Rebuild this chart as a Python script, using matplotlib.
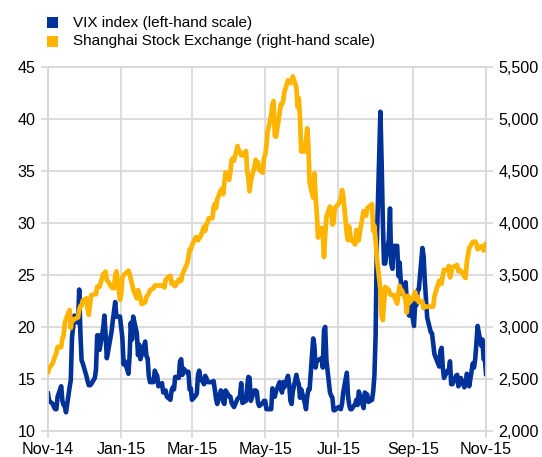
import matplotlib
matplotlib.use("Agg")
import matplotlib.pyplot as plt
import matplotlib.dates as mdates
from matplotlib.patches import Rectangle
import pandas as pd

plt.rcParams['font.family'] = ['Liberation Sans', 'DejaVu Sans']

# Business days from 20 Nov 2014 to 20 Nov 2015 (holidays carry previous value)
dates = pd.bdate_range('2014-11-20', '2015-11-20')

vix = [
    # Nov-14
    13.6, 12.9, 12.6, 12.3, 12.1, 12.1, 13.3,
    # Dec-14
    14.3, 12.9, 12.5, 12.4, 11.8, 14.2, 14.9, 19.0, 20.1, 21.1, 20.4, 23.6, 19.4, 16.8, 16.5,
    15.3, 14.8, 14.4, 14.4, 14.5, 15.1, 15.9, 19.2,
    # Jan-15
    19.2, 17.8, 19.9, 21.1, 19.3, 17.0, 17.6, 19.6, 20.6, 21.5, 22.4, 21.0, 21.0, 19.9, 18.9,
    16.4, 16.7, 15.5, 17.2, 20.4, 18.8, 21.0,
    # Feb-15
    19.4, 17.3, 18.3, 16.9, 17.3, 18.6, 17.2, 17.0, 15.3, 14.7, 14.7, 15.8, 15.5, 15.3, 14.3,
    14.6, 13.7, 13.8, 13.9, 13.3,
    # Mar-15
    13.0, 13.9, 14.2, 14.0, 15.2, 15.1, 16.7, 16.9, 15.4, 16.0, 15.6, 15.7, 14.0, 14.1, 13.0,
    13.4, 13.6, 15.4, 15.8, 15.1, 14.5, 15.3,
    # Apr-15
    15.1, 14.7, 14.7, 14.7, 14.8, 14.0, 13.1, 12.6, 13.9, 13.7, 12.8, 12.6, 13.9, 13.3, 13.3,
    12.7, 12.5, 12.3, 13.1, 13.2, 13.4, 14.6,
    # May-15
    12.7, 12.9, 14.3, 15.2, 15.1, 12.9, 13.9, 13.9, 13.8, 12.7, 12.4, 12.7, 12.9, 12.9, 12.1,
    12.1, 12.1, 14.1, 13.3, 13.3, 13.8,
    # Jun-15
    14.7, 14.2, 13.7, 14.7, 14.2, 15.3, 14.5, 12.9, 12.6, 13.8, 15.4, 14.8, 14.5, 13.2, 14.0,
    12.7, 12.1, 13.3, 14.0, 14.0, 18.9, 18.2,
    # Jul-15
    16.1, 16.8, 16.8, 17.0, 16.1, 19.7, 20.0, 16.8, 13.7, 13.4, 13.2, 12.0, 12.0, 12.3, 12.2,
    12.1, 12.6, 13.7, 15.6, 13.4, 12.5, 12.1, 12.1,
    # Aug-15
    12.6, 13.0, 12.5, 13.8, 13.4, 12.2, 13.7, 13.6, 13.5, 12.8, 13.0, 13.8, 15.3, 19.1, 28.0,
    40.7, 36.0, 30.3, 26.1, 26.1, 28.4,
    # Sep-15
    31.4, 26.1, 25.6, 27.8, 27.8, 24.9, 26.2, 24.4, 23.2, 24.3, 22.5, 21.4, 21.1, 22.3, 20.1,
    22.4, 22.1, 23.5, 23.6, 27.6, 26.8, 24.5,
    # Oct-15
    22.6, 20.9, 19.5, 19.4, 18.4, 17.4, 17.1, 16.2, 17.7, 18.0, 16.1, 15.1, 15.8, 15.8, 16.7,
    14.5, 14.5, 15.3, 15.4, 14.3, 14.6, 15.1,
    # Nov-15
    14.2, 14.5, 15.5, 15.1, 14.3, 16.5, 16.1, 16.9, 18.4, 20.1, 18.2, 18.8, 16.9, 17.0, 15.5,
]

shanghai = [
    # Nov-14
    2567, 2604, 2652, 2688, 2726, 2754, 2809,
    # Dec-14
    2806, 2893, 2910, 3035, 3076, 3162, 2990, 3078, 3062, 3076, 3092, 3163, 3201, 3205, 3254,
    3275, 3174, 3117, 3217, 3305, 3317, 3315, 3387,
    # Jan-15
    3387, 3387, 3508, 3510, 3533, 3449, 3439, 3381, 3374, 3373, 3493, 3535, 3262, 3322, 3479,
    3500, 3508, 3542, 3511, 3460, 3415, 3361,
    # Feb-15
    3275, 3355, 3323, 3283, 3221, 3240, 3289, 3305, 3322, 3354, 3373, 3399, 3399, 3399, 3399,
    3399, 3399, 3380, 3453, 3466,
    # Mar-15
    3493, 3416, 3434, 3401, 3393, 3457, 3440, 3445, 3506, 3532, 3611, 3668, 3746, 3745, 3787,
    3861, 3865, 3833, 3856, 3865, 3964, 3924,
    # Apr-15
    3989, 4005, 4046, 4046, 4147, 4183, 4143, 4225, 4315, 4329, 4276, 4391, 4488, 4415, 4495,
    4605, 4621, 4599, 4740, 4686, 4686, 4650,
    # May-15
    4650, 4691, 4500, 4428, 4305, 4403, 4537, 4608, 4581, 4584, 4510, 4484, 4626, 4655, 4742,
    4877, 5039, 5141, 5173, 4837, 4829,
    # Jun-15
    5055, 5141, 5141, 5180, 5259, 5372, 5353, 5346, 5362, 5409, 5300, 5117, 5200, 5010, 4688,
    4688, 4792, 4911, 4741, 4389, 4243, 4478,
    # Jul-15
    4245, 4097, 3860, 3953, 3903, 3672, 3884, 4060, 4157, 4108, 3984, 4003, 4144, 4181, 4206,
    4215, 4318, 4261, 3900, 3835, 3967, 3879, 3836,
    # Aug-15
    3793, 3933, 3869, 3833, 3920, 4113, 4113, 4070, 4140, 4151, 4181, 3924, 3972, 3836, 3673,
    3361, 3104, 3065, 3229, 3384, 3357,
    # Sep-15
    3315, 3309, 3309, 3309, 3225, 3320, 3395, 3348, 3350, 3261, 3139, 3300, 3231, 3244, 3305,
    3336, 3262, 3291, 3238, 3247, 3182, 3196,
    # Oct-15
    3196, 3196, 3196, 3196, 3196, 3292, 3333, 3443, 3449, 3416, 3495, 3550, 3545, 3587, 3477,
    3527, 3573, 3591, 3595, 3535, 3546, 3542,
    # Nov-15
    3482, 3472, 3623, 3688, 3759, 3818, 3812, 3822, 3803, 3748, 3775, 3774, 3736, 3788, 3801,
]

x_tick_dates = ['2014-11-20', '2015-01-20', '2015-03-20', '2015-05-20',
                '2015-07-20', '2015-09-20', '2015-11-20']
x_tick_labels = ['Nov-14', 'Jan-15', 'Mar-15', 'May-15', 'Jul-15', 'Sep-15', 'Nov-15']
left_ticks = [10, 15, 20, 25, 30, 35, 40, 45]
right_ticks = [2000, 2500, 3000, 3500, 4000, 4500, 5000, 5500]

series_labels = ['VIX index (left-hand scale)', 'Shanghai Stock Exchange (right-hand scale)']
BLUE = '#003299'
ORANGE = '#FFB400'
GRID = '#D9D9D9'

W, H = 542, 457
fig = plt.figure(figsize=(W / 100, H / 100), dpi=100)
ax = fig.add_axes([48 / W, 1 - 431 / H, (486 - 48) / W, (431 - 67) / H])
ax2 = ax.twinx()

ax.plot(dates, vix, color=BLUE, lw=3.3, solid_joinstyle='round', zorder=3)
ax2.plot(dates, shanghai, color=ORANGE, lw=3.4, solid_joinstyle='round', zorder=3)

ax.set_xlim(pd.Timestamp('2014-11-20'), pd.Timestamp('2015-11-20'))
ax.set_ylim(10, 45)
ax2.set_ylim(2000, 5500)

tick_pos = [pd.Timestamp(d) for d in x_tick_dates]
ax.set_xticks(tick_pos)
ax.set_xticklabels(x_tick_labels)
ax.set_yticks(left_ticks)
ax.set_yticklabels([str(v) for v in left_ticks])
ax2.set_yticks(right_ticks)
ax2.set_yticklabels([f'{v:,}' for v in right_ticks])

ax.grid(True, color=GRID, lw=1.3)
ax.set_axisbelow(True)
for a in (ax, ax2):
    for s in a.spines.values():
        s.set_color(GRID)
        s.set_linewidth(1.3)
    a.tick_params(colors=GRID, length=5, width=1.3, labelsize=11.6, labelcolor='black')
ax.tick_params(axis='x', pad=3)
ax.tick_params(axis='y', pad=4)
ax2.tick_params(axis='y', pad=4)

# Legend drawn manually
rows = [(series_labels[0], BLUE, 22.5), (series_labels[1], ORANGE, 41.5)]
for label, col, yc in rows:
    fig.patches.append(Rectangle((47 / W, 1 - (yc + 5.5) / H), 11 / W, 11 / H,
                                 transform=fig.transFigure, facecolor=col, edgecolor='none'))
    fig.text(73 / W, 1 - yc / H, label, fontsize=11, va='center', ha='left')

fig.savefig('out.png', dpi=100)
